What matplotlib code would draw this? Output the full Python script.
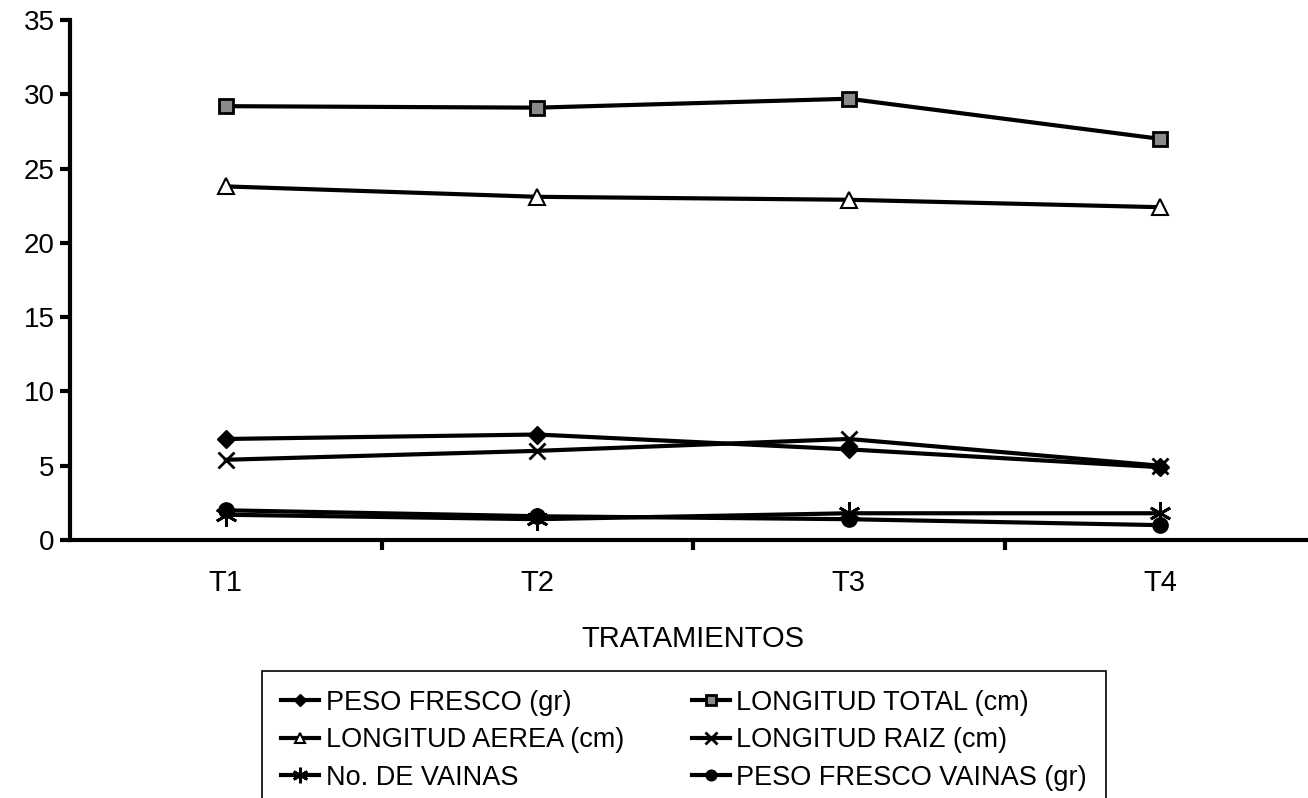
import matplotlib.pyplot as plt

# data
tratamientos = ["T1", "T2", "T3", "T4"]
peso_fresco = [6.8, 7.1, 6.1, 4.9]
longitud_total = [29.2, 29.1, 29.7, 27.0]
longitud_aerea = [23.8, 23.1, 22.9, 22.4]
longitud_raiz = [5.4, 6.0, 6.8, 5.0]
no_vainas = [1.7, 1.4, 1.8, 1.8]
peso_fresco_vainas = [2.0, 1.6, 1.4, 1.0]
y_ticks = [0, 5, 10, 15, 20, 25, 30, 35]

plt.rcParams["font.family"] = ["Liberation Sans", "DejaVu Sans"]

fig = plt.figure(figsize=(13.08, 7.98), dpi=100)
ax = fig.add_axes([70 / 1308, 258 / 798, 1246 / 1308, 520 / 798])

x = list(range(len(tratamientos)))
series = [
    ("PESO FRESCO (gr)", peso_fresco, dict(marker="D", mfc="black", ms=9)),
    ("LONGITUD AEREA (cm)", longitud_aerea, dict(marker="^", mfc="white", ms=11, mew=1.5)),
    ("No. DE VAINAS", no_vainas, dict(marker=(6, 2, 0), mfc="black", ms=16, mew=2)),
    ("LONGITUD TOTAL (cm)", longitud_total, dict(marker="s", mfc="#8a8a8a", ms=10, mew=2)),
    ("LONGITUD RAIZ (cm)", longitud_raiz, dict(marker="x", mfc="black", ms=12, mew=2)),
    ("PESO FRESCO VAINAS (gr)", peso_fresco_vainas, dict(marker="o", mfc="black", ms=11)),
]

handles = []
for label, values, style in series:
    line, = ax.plot(x, values, color="black", linewidth=3, mec="black",
                    label=label, **style)
    handles.append(line)

ax.set_xlim(-0.5, 3.5)
ax.set_ylim(0, 35)
ax.set_yticks(y_ticks)
ax.set_xticks(x)
ax.set_xticklabels(tratamientos)
ax.set_xticks([0.5, 1.5, 2.5], minor=True)
ax.tick_params(axis="x", which="major", length=0, labelsize=21, pad=21)
ax.tick_params(axis="x", which="minor", length=7, width=3, direction="out")
ax.tick_params(axis="y", length=7, width=3, direction="out", labelsize=20, pad=4)
ax.set_xlabel("TRATAMIENTOS", fontsize=21, labelpad=20)

for side in ["top", "right"]:
    ax.spines[side].set_visible(False)
for side in ["left", "bottom"]:
    ax.spines[side].set_linewidth(3)

leg = fig.legend(
    handles,
    [h.get_label() for h in handles],
    loc="upper left",
    bbox_to_anchor=(262 / 1308, 1 - 671 / 798),
    ncol=2,
    fancybox=False,
    edgecolor="black",
    framealpha=1,
    prop={"size": 19.5},
    handlelength=1.4,
    handletextpad=0.25,
    columnspacing=2.5,
    labelspacing=0.42,
    borderpad=0.7,
    borderaxespad=0,
    markerscale=0.7,
)
leg.get_frame().set_linewidth(1.2)

fig.savefig("out.png", dpi=100)
